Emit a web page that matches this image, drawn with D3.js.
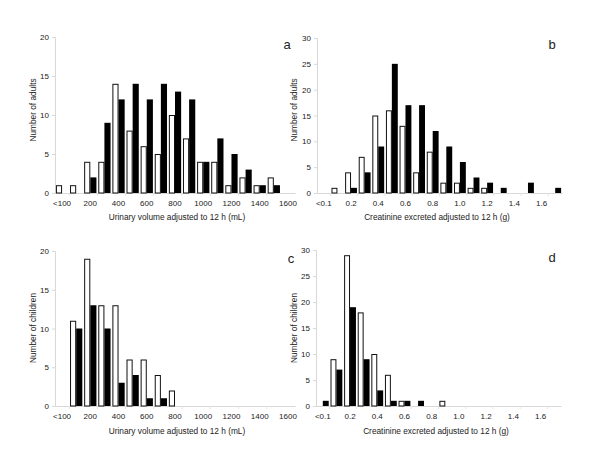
<!DOCTYPE html>
<html><head><meta charset="utf-8">
<script src="https://cdn.jsdelivr.net/npm/d3@7"></script>
<style>body{margin:0;background:#fff}svg{display:block}text{font-family:"Liberation Sans",Arial,sans-serif;fill:#222}</style>
</head><body>
<script>
// Categories
const volCats = ["<100","100","200","300","400","500","600","700","800","900","1000","1100","1200","1300","1400","1500","1600"];
const volTickLabels = ["<100","200","400","600","800","1000","1200","1400","1600"];
const creCats = ["<0.1","0.1","0.2","0.3","0.4","0.5","0.6","0.7","0.8","0.9","1.0","1.1","1.2","1.3","1.4","1.5","1.6","1.7"];
const creTickLabels = ["<0.1","0.2","0.4","0.6","0.8","1.0","1.2","1.4","1.6"];

// Panel a: adults, urinary volume
const aWhite = [1,1,4,4,14,8,6,5,10,7,4,4,1,2,1,2,0];
const aBlack = [0,0,2,9,12,14,12,14,13,12,4,7,5,3,1,1,0];
// Panel b: adults, creatinine
const bWhite = [0,1,4,7,15,16,13,4,8,2,2,1,1,0,0,0,0,0];
const bBlack = [0,0,1,4,9,25,17,17,12,9,6,3,2,1,0,2,0,1];
// Panel c: children, urinary volume
const cWhite = [0,11,19,13,13,6,6,4,2,0,0,0,0,0,0,0,0];
const cBlack = [0,10,13,10,3,4,1,1,0,0,0,0,0,0,0,0,0];
// Panel d: children, creatinine
const dWhite = [0,9,29,18,10,6,1,0,0,1,0,0,0,0,0,0,0,0];
const dBlack = [1,7,19,9,3,1,1,1,0,0,0,0,0,0,0,0,0,0];

const yTicks20 = [0,5,10,15,20];
const yTicks30 = [0,5,10,15,20,25,30];

const svg = d3.select("body").append("svg").attr("width",600).attr("height",466);

function panel(opt){
  const g = svg.append("g");
  const x0 = d3.scaleBand().domain(opt.cats).range([opt.x0,opt.x1]).paddingInner(0).paddingOuter(0);
  const x1 = d3.scaleBand().domain(["w","b"]).range([0,x0.bandwidth()]).paddingInner(0).paddingOuter(0.15);
  const y = d3.scaleLinear().domain([0,opt.ymax]).range([opt.yb,opt.yt]);
  // axes
  const ya = d3.axisLeft(y).tickValues(opt.yticks).tickSize(3).tickPadding(3);
  const yg = g.append("g").attr("transform",`translate(${opt.x0},0)`).call(ya);
  yg.select(".domain").attr("stroke","#d8d8d8");
  yg.selectAll(".tick line").attr("stroke","#d8d8d8");
  yg.selectAll("text").attr("font-size",8).attr("fill","#222").attr("font-family","Liberation Sans, Arial, sans-serif");
  const xa = d3.axisBottom(x0).tickValues(opt.tickLabels).tickSize(0).tickPadding(7);
  const xg = g.append("g").attr("transform",`translate(0,${opt.yb})`).call(xa);
  xg.select(".domain").attr("stroke","#d8d8d8");
  xg.selectAll("text").attr("font-size",8).attr("fill","#222").attr("font-family","Liberation Sans, Arial, sans-serif");
  // faint x ticks
  g.selectAll("line.xt").data(opt.cats.filter((d,i)=>i%2===1)).enter().append("line")
    .attr("x1",d=>x0(d)).attr("x2",d=>x0(d)).attr("y1",opt.yb).attr("y2",opt.yb+3).attr("stroke","#e4e4e4");
  // bars
  const rows = opt.cats.map((c,i)=>({c, w:opt.white[i], b:opt.black[i]}));
  const cg = g.selectAll("g.cat").data(rows).enter().append("g").attr("transform",d=>`translate(${x0(d.c)},0)`);
  cg.filter(d=>d.w>0).append("rect")
    .attr("x",x1("w")+0.5).attr("width",x1.bandwidth()-1)
    .attr("y",d=>y(d.w)+0.5).attr("height",d=>y(0)-y(d.w)-0.5)
    .attr("fill","#fff").attr("stroke","#111").attr("stroke-width",1);
  cg.filter(d=>d.b>0).append("rect")
    .attr("x",x1("b")).attr("width",x1.bandwidth())
    .attr("y",d=>y(d.b)).attr("height",d=>y(0)-y(d.b))
    .attr("fill","#000");
  // titles
  g.append("text").attr("x",opt.xtx).attr("y",opt.xty).attr("text-anchor","middle").attr("font-size",8.3).text(opt.xtitle);
  g.append("text").attr("transform",`translate(${opt.ytx},${opt.yty}) rotate(-90)`).attr("text-anchor","middle").attr("font-size",8.3).text(opt.ytitle);
  g.append("text").attr("x",opt.lx).attr("y",opt.ly).attr("text-anchor","middle").attr("font-size",13).text(opt.letter);
}

panel({cats:volCats,tickLabels:volTickLabels,white:aWhite,black:aBlack,x0:55,x1:295,yb:193,yt:37,ymax:20,yticks:yTicks20,
  xtitle:"Urinary volume adjusted to 12 h (mL)",xtx:177,xty:220,ytitle:"Number of adults",ytx:36,yty:110,letter:"a",lx:287,ly:49});
panel({cats:creCats,tickLabels:creTickLabels,white:bWhite,black:bBlack,x0:317,x1:562,yb:193,yt:38,ymax:30,yticks:yTicks30,
  xtitle:"Creatinine excreted adjusted to 12 h (g)",xtx:437,xty:220,ytitle:"Number of adults",ytx:297,yty:110,letter:"b",lx:552,ly:49});
panel({cats:volCats,tickLabels:volTickLabels,white:cWhite,black:cBlack,x0:55,x1:295,yb:406,yt:251,ymax:20,yticks:yTicks20,
  xtitle:"Urinary volume adjusted to 12 h (mL)",xtx:177,xty:434,ytitle:"Number of children",ytx:36,yty:328,letter:"c",lx:291,ly:263});
panel({cats:creCats,tickLabels:creTickLabels,white:dWhite,black:dBlack,x0:316,x1:561,yb:406,yt:250,ymax:30,yticks:yTicks30,
  xtitle:"Creatinine excreted adjusted to 12 h (g)",xtx:436,xty:434,ytitle:"Number of children",ytx:297,yty:328,letter:"d",lx:552,ly:262});
</script>
</body></html>
